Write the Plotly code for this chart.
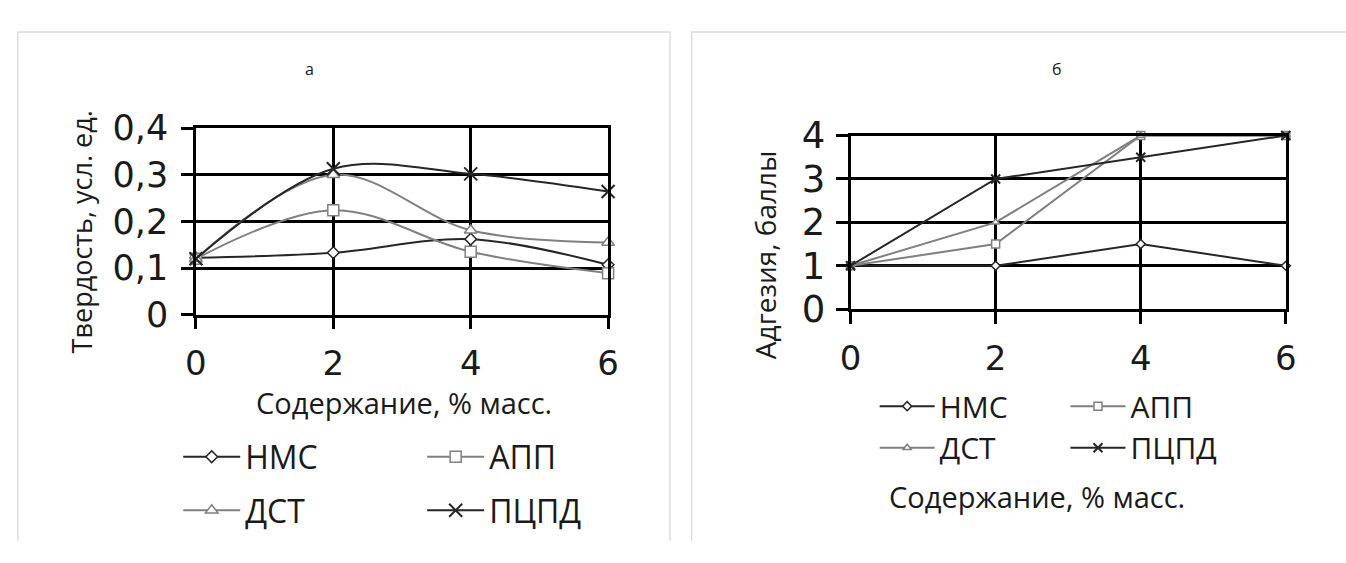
import plotly.graph_objects as go

W, H = 1346, 563

# ---------------- data ----------------
x_vals = [0, 2, 4, 6]
series_names = ["НМС", "АПП", "ДСТ", "ПЦПД"]

# panel а: hardness
hard_nms = [0.122, 0.133, 0.162, 0.107]
hard_app = [0.120, 0.224, 0.135, 0.089]
hard_dst = [0.120, 0.300, 0.181, 0.155]
hard_pcpd = [0.120, 0.313, 0.302, 0.264]

# panel б: adhesion
adh_nms = [1, 1, 1.5, 1]
adh_app = [1, 1.5, 4, 4]
adh_dst = [1, 2, 4, 4]
adh_pcpd = [1, 3, 3.5, 4]

y_a_ticks = [0, 0.1, 0.2, 0.3, 0.4]
y_a_labels = ["0", "0,1", "0,2", "0,3", "0,4"]
y_b_ticks = [0, 1, 2, 3, 4]
y_b_labels = ["0", "1", "2", "3", "4"]
x_ticks = [0, 2, 4, 6]
x_labels = ["0", "2", "4", "6"]

FONT = "Open Sans"
TICKFONT = "DejaVu Sans"
TXT = "#1a1a1a"
DARK = "#262626"
GREY = "#808080"

styles = {
    "НМС": dict(color=DARK, symbol="diamond", msize=(9, 7)),
    "АПП": dict(color=GREY, symbol="square", msize=(11, 8)),
    "ДСТ": dict(color=GREY, symbol="triangle-up", msize=(11, 7)),
    "ПЦПД": dict(color=DARK, symbol="x-thin", msize=(13, 9)),
}

def px_x(px):
    return px / W

def px_y(py):
    return 1 - py / H

fig = go.Figure()

# legend placement (pixel coords of legend anchor, left/middle)
leg_a = {"НМС": (170, 472), "АПП": (418, 472), "ДСТ": (170, 530), "ПЦПД": (418, 530)}
leg_b = {"НМС": (878, 417), "АПП": (1072, 417), "ДСТ": (878, 462), "ПЦПД": (1072, 462)}
leg_item_w = {"a": 57, "b": 55}

data_a = [hard_nms, hard_app, hard_dst, hard_pcpd]
data_b = [adh_nms, adh_app, adh_dst, adh_pcpd]

legend_layouts = {}
li = 1
for panel, data, leg, shape, xa, ya, fs, mi in [
    ("a", data_a, leg_a, "spline", "x", "y", 32, 0),
    ("b", data_b, leg_b, "linear", "x2", "y2", 30, 1),
]:
    for name, ys in zip(series_names, data):
        st = styles[name]
        lname = "legend" if li == 1 else f"legend{li}"
        is_x = st["symbol"] == "x-thin"
        fig.add_trace(go.Scatter(
            x=x_vals, y=ys, name=name, xaxis=xa, yaxis=ya,
            mode="lines+markers",
            line=dict(color=st["color"], width=2, shape=shape, smoothing=1),
            marker=dict(symbol=st["symbol"], size=st["msize"][mi],
                        color=st["color"] if is_x else "white",
                        line=dict(color=st["color"], width=2 if is_x else 1.5)),
            legend=lname, showlegend=True, cliponaxis=False,
        ))
        lx, ly = leg[name]
        legend_layouts[lname] = dict(
            x=px_x(lx), y=px_y(ly), xanchor="left", yanchor="middle",
            xref="paper", yref="paper", itemwidth=leg_item_w[panel],
            bgcolor="rgba(0,0,0,0)", borderwidth=0,
            font=dict(family=FONT, size=fs, color=TXT),
            itemclick=False, itemdoubleclick=False,
        )
        li += 1

axis_common = dict(
    showgrid=True, gridcolor="black", gridwidth=2.5,
    showline=True, linecolor="black", linewidth=2.5, mirror=True,
    ticks="outside", ticklen=12, tickwidth=2.5, tickcolor="black",
    zeroline=False, fixedrange=True,
)

fig.update_layout(
    width=W, height=H,
    margin=dict(l=0, r=0, t=0, b=0),
    paper_bgcolor="white", plot_bgcolor="white",
    font=dict(family=FONT, color=TXT),
    xaxis=dict(domain=[px_x(188), px_x(607)], range=[0, 6], tickvals=x_ticks,
               ticktext=x_labels, anchor="y", ticklabelstandoff=5,
               tickfont=dict(family=TICKFONT, size=34, color=TXT), **axis_common),
    yaxis=dict(domain=[px_y(318), px_y(116)], range=[0, 0.4], tickvals=y_a_ticks,
               ticktext=y_a_labels, anchor="x", ticklabelstandoff=6,
               tickfont=dict(family=TICKFONT, size=35, color=TXT), **axis_common),
    xaxis2=dict(domain=[px_x(853.5), px_x(1296)], range=[0, 6], tickvals=x_ticks,
                ticktext=x_labels, anchor="y2", ticklabelstandoff=5,
                tickfont=dict(family=TICKFONT, size=34, color=TXT), **axis_common),
    yaxis2=dict(domain=[px_y(312), px_y(124)], range=[0, 4], tickvals=y_b_ticks,
                ticktext=y_b_labels, anchor="x2", ticklabelstandoff=3,
                tickfont=dict(family=TICKFONT, size=37, color=TXT), **axis_common),
    **legend_layouts,
)

# panel frames (open at the bottom, like the cropped reference)
def frame(x0, x1, ytop):
    fx0, fx1, fy = px_x(x0), px_x(x1), px_y(ytop)
    fig.add_shape(type="path", xref="paper", yref="paper",
                  path=f"M{fx0},0 L{fx0},{fy} L{fx1},{fy} L{fx1},0",
                  line=dict(color="#dcdcdc", width=1.5), layer="below")

frame(7, 670, 12)
frame(692, 1400, 12)

def ann(text, x, y, size, angle=0):
    fig.add_annotation(text=text, x=px_x(x), y=px_y(y), xref="paper", yref="paper",
                       showarrow=False, xanchor="center", yanchor="middle",
                       textangle=angle, font=dict(family=FONT, size=size, color=TXT))

ann("а", 303, 52, 16)
ann("б", 1063, 52, 16)
ann("Твердость, усл. ед.", 72, 228, 27, -90)
ann("Адгезия, баллы", 766, 253, 28, -90)
ann("Содержание, % масс.", 400, 413, 29)
ann("Содержание, % масс.", 1043, 515, 29)

fig.write_html("out.html")
